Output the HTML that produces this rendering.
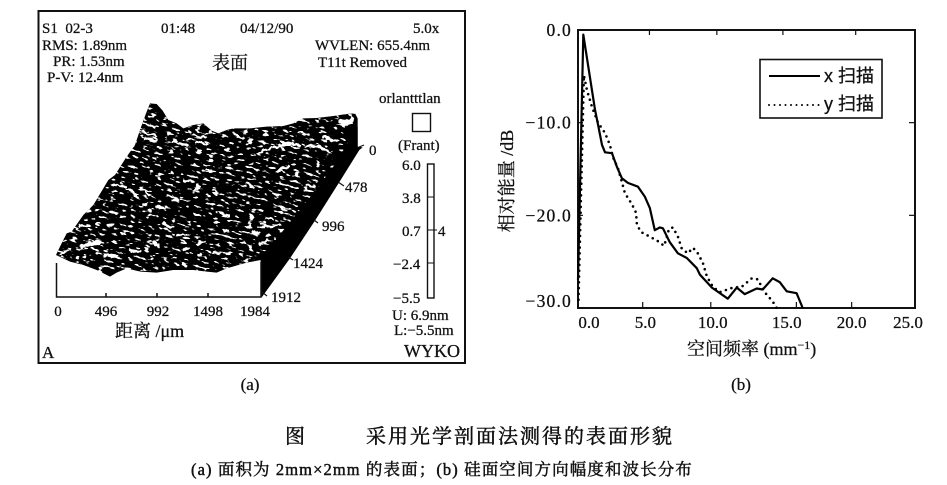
<!DOCTYPE html>
<html lang="zh">
<head>
<meta charset="utf-8">
<title>表面形貌</title>
<style>
html,body{margin:0;padding:0;background:#fff;width:947px;height:485px;overflow:hidden}
svg{display:block}
text{fill:#111;stroke:#111;stroke-width:.28px;font-family:"Liberation Serif","Noto Serif CJK SC",serif}
.p{font-size:15px}
.a{font-size:17px}
.c{stroke-width:.45px}
</style>
</head>
<body>
<svg id="figure" width="947" height="485" viewBox="0 0 947 485" xmlns="http://www.w3.org/2000/svg">
<defs>
<filter id="speckle" x="0" y="0" width="100%" height="100%" color-interpolation-filters="sRGB">
<feTurbulence type="fractalNoise" baseFrequency="0.05 0.12" numOctaves="2" seed="11"/>
<feColorMatrix type="matrix" values="0 0 0 0 1  0 0 0 0 1  0 0 0 0 1  14 0 0 0 -8.4"/>
</filter>
<filter id="wobble" x="-5%" y="-5%" width="110%" height="110%" color-interpolation-filters="sRGB">
<feTurbulence type="fractalNoise" baseFrequency="0.06" numOctaves="2" seed="4" result="n"/>
<feDisplacementMap in="SourceGraphic" in2="n" scale="16" xChannelSelector="R" yChannelSelector="G"/>
</filter>
<clipPath id="top-clip">
<path d="M48 495L80 430L130 375L205 270L260 200L300 120L330 40L350 42L385 90L430 115L490 100L535 130L580 115L680 110L760 100L790 85L880 78L945 70L925 180L662 505L560 535L500 545L400 540L300 545L210 560L130 525Z"/>
</clipPath>
</defs>

<g>
<rect x="38.5" y="11" width="426.5" height="352" fill="#fff" stroke="#111" stroke-width="2"/>
<text class="p" x="42" y="33" xml:space="preserve">S1  02-3</text>
<text class="p" x="161" y="33">01:48</text>
<text class="p" x="240" y="33">04/12/90</text>
<text class="p" x="413" y="33">5.0x</text>
<text class="p" x="42" y="50">RMS: 1.89nm</text>
<text class="p" x="53" y="66">PR: 1.53nm</text>
<text class="p" x="47" y="82">P-V: 12.4nm</text>
<text class="p" x="315" y="50">WVLEN: 655.4nm</text>
<text class="p" x="318" y="67">T11t Removed</text>
<text x="212" y="69" font-size="18">表面</text>
<text class="p" x="379" y="103">orlantttlan</text>
<rect x="412.5" y="113.5" width="18" height="18" fill="none" stroke="#111" stroke-width="1.4"/>
<text class="p" x="398" y="150">(Frant)</text>

<g transform="translate(40 90) scale(.33333)">
<path fill="#000" d="M48 495L60 470L80 430L95 425L130 375L160 345L205 270L225 255L260 200L285 165L300 120L318 70L330 40L350 42L368 62L385 90L410 100L430 115L460 105L490 100L515 122L535 130L560 120L580 115L630 115L680 110L730 108L760 100L790 85L830 84L880 78L920 72L945 70L953 85L953 170L968 172L958 180L905 265L825 392L750 505L665 622L662 510L620 518L560 535L530 548L500 545L460 540L400 540L350 548L300 545L260 535L230 548L210 560L170 540L130 525L90 515Z"/>
<g clip-path="url(#top-clip)">
<rect x="-100" y="-100" width="1200" height="800" filter="url(#speckle)" transform="rotate(14 500 300)"/>
<g fill="none" stroke="#fff" stroke-width="7" stroke-linecap="round" filter="url(#wobble)">
<path d="M310 125l40 15M315 145l35 8M320 100l25 10M400 155l40 10M460 135l35 10M470 155l30 8M650 190q60-25 100-25M720 155l60 12M800 170q40-10 70 20M850 140l40 15M780 125l25 10M710 245l35-15M500 240l25 5M430 270l30 5M270 300l25 25M230 285l25 3M400 320l15 10M320 305l10 10M210 365l20 5M120 410l30-5M190 495l40 5M60 490l25-10M340 455l15 15M410 435h35M470 460l25-5M660 400q30 15 60 5M680 385l20 5M660 465l20-15M640 425l15 10M200 405h20M270 480l30 5M430 480l15-5M520 490l25-5M550 420l15 5M520 300l10 5M620 410l10-5M350 350l30 5M370 400l20 10M800 285l25 5M720 350l15 10M580 130l30 15M460 300l20-5M540 370l25 10M620 280l20 10"/>
<path stroke-width="15" d="M125 470q30-12 50-12M905 95q20 8 32-3"/>
</g>
</g>
<path fill="#000" d="M953 110L953 172L665 622L662 510L760 390L880 230Z"/>
</g>

<g fill="none" stroke="#111" stroke-width="1.5">
<path d="M56.5 263V297H261V262M106 297v-4M157 297v-4M208 297v-4"/>
</g>
<g class="p" text-anchor="middle">
<text class="p" x="58" y="316">0</text>
<text class="p" x="106" y="316">496</text>
<text class="p" x="158" y="316">992</text>
<text class="p" x="208" y="316">1498</text>
<text class="p" x="255" y="316">1984</text>
</g>
<text x="115" y="337" font-size="18">距离 /μm</text>
<g fill="none" stroke="#111" stroke-width="1.2">
<path d="M359 147l5-2M338 182l6 4M314 220l4 3M288 257l5 3M262 292l5 4"/>
</g>
<text class="p" x="369" y="155">0</text>
<text class="p" x="345" y="192">478</text>
<text class="p" x="322" y="231">996</text>
<text class="p" x="293" y="268">1424</text>
<text class="p" x="271" y="302">1912</text>

<g>
<rect x="427.5" y="164" width="6.5" height="134" fill="#fff" stroke="#111" stroke-width="1.4"/>
<path d="M427 197h7M427 230h10M427 263h7" stroke="#111" stroke-width="1" fill="none"/>
<text class="p" x="402" y="170">6.0</text>
<text class="p" x="402" y="203">3.8</text>
<text class="p" x="402" y="236">0.7</text>
<text class="p" x="438" y="236">4</text>
<text class="p" x="393" y="269">−2.4</text>
<text class="p" x="393" y="303">−5.5</text>
</g>
<text class="p" x="392" y="320">U: 6.9nm</text>
<text class="p" x="394" y="335">L:−5.5nm</text>
<text x="404" y="357" font-size="18">WYKO</text>
<text x="42" y="358" font-size="17">A</text>
</g>
<text class="a" x="250" y="390" text-anchor="middle">(a)</text>

<g id="chart"></g>
<text class="a" x="741" y="390" text-anchor="middle">(b)</text>

<text class="c" x="285" y="443" font-size="20">图</text>
<text class="c" x="366" y="443" font-size="20" letter-spacing="2">采用光学剖面法测得的表面形貌</text>
<text class="c" x="191" y="475" font-size="16.5" letter-spacing="1.1">(a) 面积为 2mm×2mm 的表面；(b) 硅面空间方向幅度和波长分布</text>
</svg>

<script>
const xScanFreq = [0,0.39,1.26,1.48,1.78,2.0,2.52,2.89,3.26,3.7,4.44,4.96,5.33,5.7,6.07,6.3,6.81,7.41,8.07,8.81,9.04,9.93,11.11,11.78,12.37,13.26,13.7,14.44,14.96,15.48,16.22,16.67];
const xScanDb = [-27,-0.5,-8.6,-10.2,-12.4,-13.2,-13.3,-14.8,-16,-16.5,-16.9,-18,-19.2,-21.6,-21.3,-21.4,-22.9,-24.1,-24.6,-25.7,-26.4,-27.8,-29,-27.8,-28.5,-27.9,-28,-26.8,-27.2,-28.2,-28.4,-30];
const yScanFreq = [0.04,0.44,0.67,1.04,1.48,2.0,2.37,2.59,2.96,3.26,3.48,4.0,4.3,4.37,4.67,5.33,6.07,6.37,6.52,6.74,7.04,7.41,7.7,8.15,8.52,8.81,9.26,9.56,10.0,10.52,11.48,12.15,12.89,13.33,13.85,14.44,14.74];
const yScanDb = [-29.1,-4.9,-6.5,-8.3,-10,-11.1,-12.4,-13.7,-14.9,-16.4,-17.6,-18.8,-19.7,-21,-21.8,-22.3,-22.9,-23.3,-22.7,-21.5,-21.3,-22.3,-23.6,-24.1,-23.5,-23.9,-25.1,-26.6,-27.7,-28.3,-27.8,-27.7,-26.8,-26.9,-28.3,-29.3,-30];
const xTickLabels = [0,5,10,15,20,25];
const yTickLabels = [0,-10,-20,-30];
const bottomTicks = [4.8,9.85,16.2,20.3];
const topTicks = [5.3,10.3,15.2,20.6];
const sideTicks = [-10,-20];

const NS = 'http://www.w3.org/2000/svg';
const chart = document.getElementById('chart');
const X0 = 578, X1 = 915, Y0 = 30, Y1 = 308;
function x(f){ return X0 + f * (X1 - X0) / 25; }
function y(db){ return Y0 - db * (Y1 - Y0) / 30; }
function xLabelNudge(v){
  if (v === 0) return 11;
  if (v === 15) return 6.5;
  if (v === 20) return 4;
  if (v === 25) return -7;
  return 0;
}
function yLabelNudge(v){ return v === -30 ? -1 : 6; }
function make(tag, attrs, text){
  const el = document.createElementNS(NS, tag);
  for (const k in attrs) el.setAttribute(k, attrs[k]);
  if (text !== undefined) el.textContent = text;
  chart.appendChild(el);
  return el;
}
function linePath(fs, dbs){
  return fs.map(function(f, i){ return (i ? 'L' : 'M') + x(f).toFixed(1) + ' ' + y(dbs[i]).toFixed(1); }).join('');
}

const frame = make('rect', {x: X0, y: Y0, width: X1 - X0, height: Y1 - Y0, fill: 'none', stroke: '#111', 'stroke-width': 2});



bottomTicks.forEach(function(t){
  const m = make('line', {x1: x(t), x2: x(t), y1: Y1, y2: Y1 - 6, stroke: '#111', 'stroke-width': 1.2});
  
  
});
topTicks.forEach(function(t){
  const m = make('line', {x1: x(t), x2: x(t), y1: Y0, y2: Y0 + 5, stroke: '#111', 'stroke-width': 1.2});
  
  
});
sideTicks.forEach(function(t){
  const a = make('line', {x1: X0, x2: X0 + 5, y1: y(t), y2: y(t), stroke: '#111', 'stroke-width': 1.2});
  
  
  const b = make('line', {x1: X1 - 6, x2: X1, y1: y(t), y2: y(t), stroke: '#111', 'stroke-width': 1.2});
  
  
});
xTickLabels.forEach(function(v){
  const t = make('text', {x: x(v) + xLabelNudge(v), y: 328, 'text-anchor': 'middle', 'font-size': 17}, v.toFixed(1));
  
  
});
yTickLabels.forEach(function(v){
  const t = make('text', {x: 572, y: y(v) + yLabelNudge(v), 'text-anchor': 'end', 'font-size': 17.5, 'letter-spacing': 1.2}, (v < 0 ? '−' : '') + Math.abs(v).toFixed(1));
  
  
});

const xSeries = make('path', {d: linePath(xScanFreq, xScanDb), fill: 'none', stroke: '#000', 'stroke-width': 2.2, 'stroke-linejoin': 'round'});


const ySeries = make('path', {d: linePath(yScanFreq, yScanDb), fill: 'none', stroke: '#000', 'stroke-width': 2.6, 'stroke-linecap': 'round', 'stroke-dasharray': '0 5.8'});



const yTitle = make('text', {transform: 'translate(513 181) rotate(-90)', 'text-anchor': 'middle', 'font-size': 18}, '相对能量 /dB');



const xTitle = make('text', {x: 687, y: 355, 'font-size': 18});


xTitle.appendChild(document.createTextNode('空间频率 (mm'));
const sup = document.createElementNS(NS, 'tspan');
sup.setAttribute('dy', '-6');
sup.setAttribute('font-size', '12');
sup.textContent = '−1';
xTitle.appendChild(sup);
const close = document.createElementNS(NS, 'tspan');
close.setAttribute('dy', '6');
close.textContent = ')';
xTitle.appendChild(close);

const legendBox = make('rect', {x: 760, y: 59.5, width: 122, height: 58.5, fill: '#fff', stroke: '#111', 'stroke-width': 1.6});


const legendSolid = make('line', {x1: 769, x2: 820, y1: 76, y2: 76, stroke: '#000', 'stroke-width': 2});


const legendDotted = make('line', {x1: 769, x2: 820, y1: 105, y2: 105, stroke: '#000', 'stroke-width': 2, 'stroke-linecap': 'round', 'stroke-dasharray': '0 5.5'});


const legendX = make('text', {x: 824, y: 82, 'font-size': 18, style: 'font-family:"Liberation Sans","Noto Sans CJK SC",sans-serif'}, 'x 扫描');


const legendY = make('text', {x: 824, y: 110, 'font-size': 18, style: 'font-family:"Liberation Sans","Noto Sans CJK SC",sans-serif'}, 'y 扫描');


</script>
</body>
</html>
